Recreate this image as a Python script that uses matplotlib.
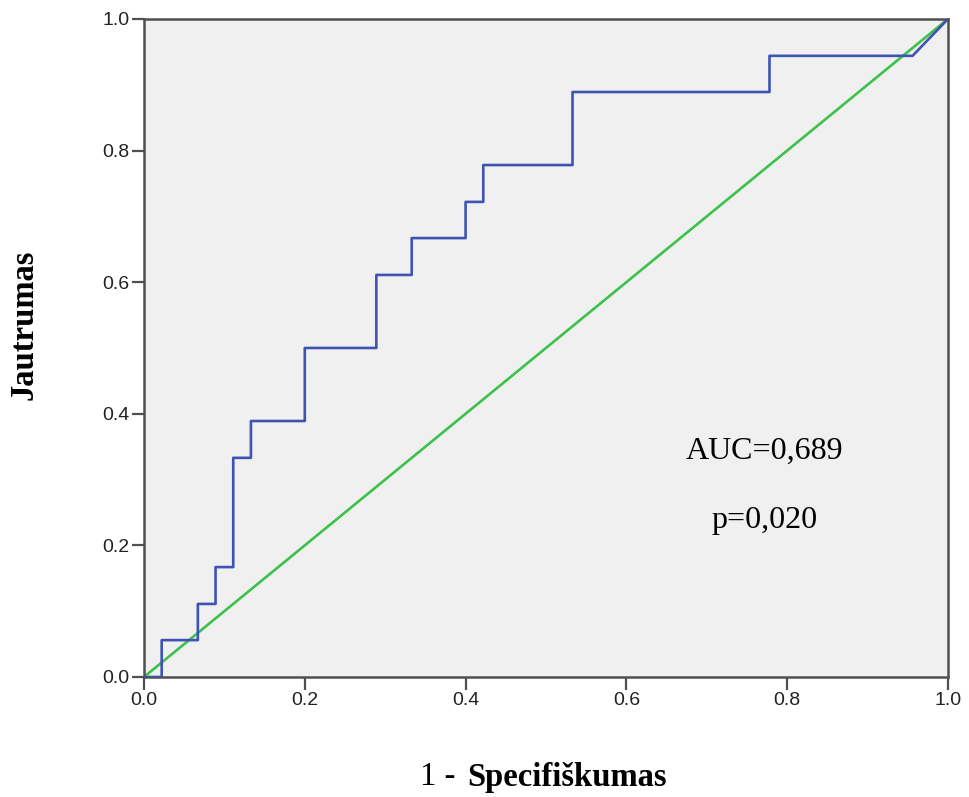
import numpy as np
import matplotlib
matplotlib.use("Agg")
import matplotlib.pyplot as plt

# ROC corner points (1 - specificity, sensitivity)
fpr = [0.0, 0.022, 0.022, 0.067, 0.067, 0.089, 0.089, 0.111, 0.111, 0.133, 0.133,
       0.2, 0.2, 0.289, 0.289, 0.333, 0.333, 0.4, 0.4, 0.422, 0.422,
       0.533, 0.533, 0.778, 0.778, 0.956, 1.0]
tpr = [0.0, 0.0, 0.056, 0.056, 0.111, 0.111, 0.167, 0.167, 0.333, 0.333, 0.389,
       0.389, 0.5, 0.5, 0.611, 0.611, 0.667, 0.667, 0.722, 0.722, 0.778,
       0.778, 0.889, 0.889, 0.944, 0.944, 1.0]
ref_line = [0.0, 1.0]
ticks = [0.0, 0.2, 0.4, 0.6, 0.8, 1.0]
tick_labels = ["0.0", "0.2", "0.4", "0.6", "0.8", "1.0"]
auc_text = "AUC=0,689"
p_text = "p=0,020"

fig = plt.figure(figsize=(9.69, 7.97), dpi=100)
ax = fig.add_axes([0.1486, 0.1506, 0.8297, 0.8256])
ax.set_facecolor("#f0f0f0")

ax.plot(ref_line, ref_line, color="#3cc24a", lw=1.9, zorder=2)
ax.plot(fpr, tpr, color="#3f54b2", lw=1.9, zorder=3)

ax.set_xlim(0, 1)
ax.set_ylim(0, 1)
ax.set_xticks(ticks)
ax.set_xticklabels(tick_labels)
ax.set_yticks(ticks)
ax.set_yticklabels(tick_labels)

for s in ax.spines.values():
    s.set_color("#505050")
    s.set_linewidth(1.8)
ax.tick_params(direction="out", length=9, width=1.6, color="#505050",
               labelsize=14, pad=1.5, labelcolor="#222222")
for lab in ax.get_xticklabels() + ax.get_yticklabels():
    lab.set_family("Liberation Sans")

ax.text(0.772, 0.343, auc_text, family="Liberation Serif", fontsize=23,
        ha="center", va="center")
ax.text(0.772, 0.238, p_text, family="Liberation Serif", fontsize=23,
        ha="center", va="center")

fig.text(0.025, 0.592, "Jautrumas", family="Liberation Serif", fontsize=23.5,
         fontweight="bold", rotation=90, ha="center", va="center")
fig.text(0.4696, 0.025, "1 -", family="Liberation Serif", fontsize=23.5,
         ha="right", va="center")
fig.text(0.482, 0.025, "Specifiškumas", family="Liberation Serif", fontsize=23.5,
         fontweight="bold", ha="left", va="center")

fig.savefig("out.png", dpi=100)
